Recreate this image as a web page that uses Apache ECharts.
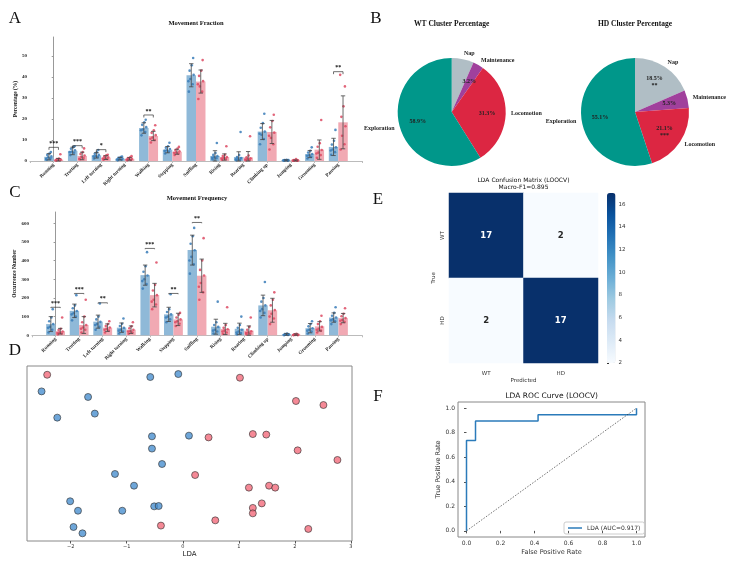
<!DOCTYPE html>
<html lang="en">
<head>
<meta charset="UTF-8">
<title>Movement analysis</title>
<script src="https://cdn.jsdelivr.net/npm/echarts@6/dist/echarts.min.js"></script>
<style>html,body{margin:0;padding:0;background:#fff}</style>
</head>
<body>
<div id="main" style="width:740px;height:573px;"></div>
<script>
// ---- data ----
var behaviours = ['Running', 'Trotting', 'Left turning', 'Right turning', 'Walking', 'Stepping', 'Sniffing',
  'Rising', 'Rearing', 'Climbing up', 'Jumping', 'Grooming', 'Pausing'];

// Movement fraction (%)
var fracWT = [2.0, 4.8, 2.7, 1.1, 15.7, 5.4, 40.8, 2.4, 1.9, 14.0, 0.3, 3.3, 6.7];
var fracWTsd = [1.5, 1.8, 1.3, 0.6, 2.5, 1.5, 5.5, 2.5, 2.5, 3.8, 0.3, 1.7, 4.1];
var fracHD = [0.6, 2.4, 1.6, 1.0, 11.9, 4.4, 37.8, 1.9, 1.7, 13.8, 0.2, 5.4, 18.4];
var fracHDsd = [0.6, 1.8, 0.9, 0.6, 2.2, 1.2, 5.5, 1.5, 2.8, 5.5, 0.3, 4.6, 12.6];
var fracWTpts = [
  [0.6, 1.2, 1.8, 2.2, 2.9, 3.6, 4.3, 1.0], [2.8, 3.9, 4.5, 5.1, 5.8, 6.6, 7.0, 4.2],
  [1.2, 1.9, 2.4, 2.9, 3.4, 4.1, 5.2, 2.2], [0.3, 0.6, 0.9, 1.2, 1.5, 1.9, 2.1, 0.8],
  [12.2, 13.8, 15.0, 16.1, 17.2, 18.4, 19.6, 14.6], [3.6, 4.5, 5.1, 5.7, 6.3, 7.0, 8.7, 4.8],
  [33.0, 36.5, 39.0, 41.0, 43.0, 45.5, 49.0, 38.0], [0.8, 1.3, 1.8, 2.3, 2.9, 3.8, 8.6, 1.5],
  [0.3, 0.6, 1.0, 1.4, 1.9, 2.8, 13.8, 0.8], [8.0, 10.5, 12.5, 14.0, 15.8, 18.0, 22.5, 13.0],
  [0.1, 0.2, 0.3, 0.4, 0.5, 0.6, 0.2, 0.3], [1.2, 2.0, 2.7, 3.3, 4.0, 4.8, 6.5, 2.5],
  [3.0, 4.2, 5.5, 6.5, 7.8, 9.6, 14.8, 5.0]];
var fracHDpts = [
  [0.2, 0.4, 0.5, 0.7, 0.9, 1.2, 3.2, 0.3], [0.8, 1.4, 2.0, 2.6, 3.3, 4.2, 6.0, 1.1],
  [0.6, 1.0, 1.4, 1.8, 2.2, 2.7, 3.0, 1.2], [0.3, 0.5, 0.8, 1.1, 1.4, 1.8, 2.3, 0.7],
  [8.8, 10.0, 11.2, 12.3, 13.4, 14.6, 17.0, 10.6], [2.9, 3.6, 4.1, 4.6, 5.2, 5.9, 6.7, 3.9],
  [29.5, 33.0, 35.5, 38.0, 40.5, 43.0, 48.0, 36.5], [0.6, 1.0, 1.5, 1.9, 2.4, 3.0, 7.0, 1.2],
  [0.3, 0.6, 0.9, 1.3, 1.8, 2.6, 11.8, 0.7], [5.5, 8.0, 11.0, 13.5, 16.0, 19.0, 22.0, 12.0],
  [0.1, 0.2, 0.2, 0.3, 0.5, 0.9, 0.1, 0.2], [1.5, 2.8, 4.0, 5.2, 6.8, 8.5, 19.5, 3.6],
  [5.5, 8.0, 12.0, 16.5, 21.0, 26.0, 35.5, 41.0]];
var fracSig = [[0, 6.5, '***'], [1, 7.3, '***'], [2, 5.4, '*'], [4, 21.9, '**'], [12, 42.5, '**']];

// Movement frequency (count)
var freqWT = [60, 131, 73, 41, 322, 112, 456, 46, 35, 160, 5, 38, 95];
var freqWTsd = [40, 36, 35, 25, 54, 38, 80, 40, 30, 55, 5, 25, 25];
var freqHD = [22, 55, 41, 30, 215, 85, 319, 34, 25, 134, 3, 48, 92];
var freqHDsd = [15, 45, 20, 20, 63, 33, 89, 30, 25, 64, 5, 25, 25];
var freqWTpts = [
  [15, 30, 45, 60, 75, 95, 140, 40], [80, 100, 118, 130, 145, 160, 215, 112],
  [30, 45, 60, 72, 85, 100, 170, 55], [10, 20, 30, 40, 50, 62, 90, 25],
  [250, 275, 300, 320, 340, 370, 445, 290], [70, 85, 100, 112, 125, 140, 220, 95],
  [330, 380, 420, 455, 490, 530, 575, 400], [10, 20, 30, 45, 55, 70, 180, 25],
  [5, 12, 20, 30, 40, 55, 100, 15], [95, 120, 140, 160, 180, 200, 285, 130],
  [1, 2, 3, 5, 7, 10, 3, 2], [10, 20, 30, 38, 48, 60, 75, 25],
  [60, 75, 85, 95, 105, 120, 150, 80]];
var freqHDpts = [
  [5, 10, 15, 20, 28, 35, 95, 12], [15, 30, 42, 55, 70, 100, 190, 35],
  [15, 25, 35, 42, 50, 60, 75, 30], [8, 15, 22, 30, 38, 48, 70, 20],
  [140, 165, 190, 215, 240, 270, 390, 180], [50, 62, 75, 85, 95, 110, 120, 70],
  [190, 230, 280, 320, 350, 400, 520, 260], [8, 15, 25, 32, 40, 55, 150, 20],
  [5, 10, 15, 22, 30, 45, 95, 12], [60, 90, 115, 135, 160, 190, 230, 100],
  [1, 2, 2, 3, 5, 8, 1, 2], [15, 25, 35, 45, 60, 75, 105, 30],
  [60, 72, 82, 92, 102, 115, 145, 78]];
var freqSig = [[0, 150, '***'], [1, 224, '***'], [2, 174, '**'], [4, 465, '***'], [5, 224, '**'], [6, 604, '**']];

// Cluster percentages
var clusters = ['Nap', 'Maintenance', 'Locomotion', 'Exploration'];
var wtPct = [6.6, 3.2, 31.3, 58.9];
var hdPct = [18.5, 5.3, 21.1, 55.1];
var hdStars = ['**', '', '***', ''];

// LDA projection (x = LDA score, y = jitter)
var ldaWT = [[-2.52, 0.855], [-2.24, 0.705], [-1.69, 0.823], [-1.57, 0.728], [-0.58, 0.937], [-0.08, 0.954],
  [-0.55, 0.598], [0.11, 0.602], [-0.55, 0.528], [-0.37, 0.44], [-1.21, 0.383], [-0.87, 0.316],
  [-2.01, 0.227], [-1.87, 0.173], [-1.08, 0.173], [-0.51, 0.198], [-0.43, 0.2], [-1.95, 0.08], [-1.79, 0.044]];
var ldaHD = [[-2.42, 0.95], [1.02, 0.933], [2.02, 0.8], [2.51, 0.777], [0.46, 0.592], [1.25, 0.611],
  [1.49, 0.608], [2.05, 0.518], [2.76, 0.463], [0.22, 0.377], [1.18, 0.305], [1.54, 0.316],
  [1.65, 0.305], [1.41, 0.215], [1.25, 0.189], [1.25, 0.158], [0.58, 0.118], [-0.39, 0.088], [2.24, 0.069]];

// confusion matrix, rows = true, cols = predicted
var cmLabels = ['WT', 'HD'];
var cm = [[17, 2], [2, 17]];

// ROC
var rocFpr = [0, 0, 0.053, 0.053, 0.421, 0.421, 1, 1];
var rocTpr = [0, 0.737, 0.737, 0.895, 0.895, 0.947, 0.947, 1];

// ---- styling ----
var serif = '"Liberation Serif", "Times New Roman", serif';
var sans = '"DejaVu Sans", sans-serif';
var wtBar = '#8fb9d8', hdBar = '#f1a9b3', wtDot = '#3a7db8', hdDot = '#dd4a63';
var pieColors = ['#b0bec5', '#a0409c', '#dc2642', '#00978a'];
var blues = ['#f7fbff', '#deebf7', '#c6dbef', '#9ecae1', '#6baed6', '#4292c6', '#2171b5', '#08519c', '#08306b'];
var jit = [-0.1, 0.06, -0.04, 0.1, -0.07, 0.02, 0.08, -0.12];

function dotData(pts, shift) {
  var out = [];
  pts.forEach(function (vals, i) {
    vals.forEach(function (v, k) { out.push([i + shift + jit[k], v]); });
  });
  return out;
}

function barPanel(gi, wt, wtSd, hd, hdSd, wtPts, hdPts, sig, tickLen) {
  function bars(means, off, color) {
    return {
      type: 'custom', xAxisIndex: gi, yAxisIndex: gi, silent: true,
      data: means.map(function (m, i) { return [i, m]; }),
      encode: { x: 0, y: 1 },
      renderItem: function (params, api) {
        var i = api.value(0), m = api.value(1);
        var a = api.coord([i + off, m]), b = api.coord([i + off + 0.4, 0]);
        return { type: 'rect', shape: { x: a[0], y: a[1], width: b[0] - a[0], height: b[1] - a[1] }, style: { fill: color } };
      }
    };
  }
  function errs(means, sds, off) {
    return {
      type: 'custom', xAxisIndex: gi, yAxisIndex: gi, silent: true, z: 5,
      data: means.map(function (m, i) { return [i, m, sds[i]]; }),
      encode: { x: 0, y: 1 },
      renderItem: function (params, api) {
        var i = api.value(0) + off, m = api.value(1), s = api.value(2);
        var top = api.coord([i, m + s]), bot = api.coord([i, Math.max(0, m - s)]);
        var st = { stroke: '#444', lineWidth: 0.8 };
        return { type: 'group', children: [
          { type: 'line', shape: { x1: top[0], y1: top[1], x2: bot[0], y2: bot[1] }, style: st },
          { type: 'line', shape: { x1: top[0] - 2.2, y1: top[1], x2: top[0] + 2.2, y2: top[1] }, style: st },
          { type: 'line', shape: { x1: bot[0] - 2.2, y1: bot[1], x2: bot[0] + 2.2, y2: bot[1] }, style: st }
        ] };
      }
    };
  }
  function dots(pts, shift, color) {
    return {
      type: 'scatter', xAxisIndex: gi, yAxisIndex: gi, silent: true, z: 4,
      symbolSize: 2.6, itemStyle: { color: color, opacity: 0.85 },
      data: dotData(pts, shift)
    };
  }
  var brackets = {
    type: 'custom', xAxisIndex: gi, yAxisIndex: gi, silent: true, z: 6,
    data: sig.map(function (s) { return [s[0], s[1]]; }),
    encode: { x: 0, y: 1 },
    renderItem: function (params, api) {
      var i = api.value(0), y = api.value(1);
      var l = api.coord([i - 0.2, y]), r = api.coord([i + 0.2, y]);
      return { type: 'group', children: [
        { type: 'polyline', shape: { points: [[l[0], l[1] + tickLen], [l[0], l[1]], [r[0], r[1]], [r[0], r[1] + tickLen]] },
          style: { stroke: '#333', lineWidth: 0.7, fill: null } },
        { type: 'text', style: { x: (l[0] + r[0]) / 2, y: l[1] - 1, text: sig[params.dataIndex][2], align: 'center',
          verticalAlign: 'bottom', fontSize: 6, fontWeight: 'bold', fontFamily: serif, fill: '#111' } }
      ] };
    }
  };
  return [bars(wt, -0.4, wtBar), bars(hd, 0, hdBar), dots(wtPts, -0.2, wtDot), dots(hdPts, 0.2, hdDot),
    errs(wt, wtSd, -0.2), errs(hd, hdSd, 0.2), brackets];
}

function behaviourX(gi) {
  return {
    gridIndex: gi, type: 'value', min: -1, max: 13, interval: 1, splitLine: { show: false },
    axisLine: { lineStyle: { color: '#bbb', width: 1.2 } },
    axisTick: { length: 2, lineStyle: { color: '#bbb' } },
    axisLabel: { rotate: 45, fontSize: 5, fontWeight: 'bold', fontFamily: serif, color: '#222', margin: 3,
      formatter: function (v) { return behaviours[v] || ''; } }
  };
}
function countY(gi, max, step, name) {
  return {
    gridIndex: gi, type: 'value', min: 0, max: max, interval: step, splitLine: { show: false },
    name: name, nameLocation: 'middle', nameGap: 8,
    nameTextStyle: { fontSize: 5.5, fontWeight: 'bold', fontFamily: serif, color: '#111' },
    axisLine: { show: true, lineStyle: { color: '#999' } },
    axisTick: { show: true, length: 2, lineStyle: { color: '#999' } },
    axisLabel: { fontSize: 5, fontWeight: 'bold', fontFamily: serif, color: '#222', margin: 3, showMaxLabel: false }
  };
}
function plainText(x, y, text, size, family, weight) {
  return { type: 'text', x: x, y: y, silent: true,
    style: { text: text, align: 'center', verticalAlign: 'middle', fontSize: size, fontFamily: family,
      fontWeight: weight || 'normal', fill: '#111', lineHeight: size * 1.15 } };
}

var tickFont = { fontSize: 5.5, fontFamily: sans, color: '#333' };

var series = [];
series = series.concat(barPanel(0, fracWT, fracWTsd, fracHD, fracHDsd, fracWTpts, fracHDpts, fracSig, 2.5));
series = series.concat(barPanel(1, freqWT, freqWTsd, freqHD, freqHDsd, freqWTpts, freqHDpts, freqSig, 0.8));

// pies
function pie(center, pct, stars) {
  var items = clusters.map(function (n, i) { return { name: n, value: pct[i], itemStyle: { color: pieColors[i] } }; });
  return [{
    type: 'pie', center: center, radius: 54, startAngle: 90, clockwise: true, silent: true, avoidLabelOverlap: false,
    label: { show: true, position: 'outside', fontSize: 6, fontWeight: 'bold', fontFamily: serif, color: '#222', distanceToLabelLine: 0 },
    labelLine: { show: false, length: 5.4, length2: 0 },
    data: items
  }, {
    type: 'pie', center: center, radius: 64.8, startAngle: 90, clockwise: true, silent: true, avoidLabelOverlap: false,
    itemStyle: { color: 'rgba(0,0,0,0)' },
    label: { show: true, position: 'inside', fontSize: 6, fontWeight: 'bold', fontFamily: serif, color: '#222', lineHeight: 7,
      formatter: function (p) { var s = stars[p.dataIndex]; return p.value.toFixed(1) + '%' + (s ? '\n' + s : ''); } },
    data: clusters.map(function (n, i) { return { name: n, value: pct[i] }; })
  }];
}
series = series.concat(pie([451.7, 112], wtPct, ['', '', '', '']));
series = series.concat(pie([635, 112], hdPct, hdStars));

// LDA scatter
series.push({ type: 'scatter', name: 'WT', xAxisIndex: 2, yAxisIndex: 2, symbolSize: 7, data: ldaWT,
  itemStyle: { color: '#4a90cf', borderColor: '#333', borderWidth: 0.8 } });
series.push({ type: 'scatter', name: 'HD', xAxisIndex: 2, yAxisIndex: 2, symbolSize: 7, data: ldaHD,
  itemStyle: { color: '#f26b7c', borderColor: '#333', borderWidth: 0.8 } });

// confusion matrix
var heatData = [];
cm.forEach(function (row, r) {
  row.forEach(function (v, c) {
    heatData.push({ value: [c, cmLabels.length - 1 - r, v], label: { color: v > 9 ? '#fff' : '#262626' } });
  });
});
var heatIndex = series.length;
series.push({ type: 'heatmap', xAxisIndex: 3, yAxisIndex: 3, data: heatData, silent: true,
  label: { show: true, fontSize: 8.5, fontWeight: 'bold', fontFamily: sans } });

// ROC
series.push({ type: 'line', name: 'LDA (AUC=0.917)', xAxisIndex: 5, yAxisIndex: 5, symbol: 'none',
  data: rocFpr.map(function (f, i) { return [f, rocTpr[i]]; }),
  lineStyle: { color: '#2b7bba', width: 1.5 }, itemStyle: { color: '#2b7bba' } });
series.push({ type: 'line', name: 'chance', xAxisIndex: 5, yAxisIndex: 5, symbol: 'none', silent: true,
  data: [[0, 0], [1, 1]], lineStyle: { color: '#333', width: 0.7, type: [1.5, 1.5] } });

var option = {
  backgroundColor: '#fff',
  animation: false,
  grid: [
    { left: 30, top: 37, width: 332, height: 124 },
    { left: 32, top: 212, width: 330, height: 123.3 },
    { left: 27, top: 366, width: 325, height: 175, show: true, borderColor: '#888', borderWidth: 1 },
    { left: 449, top: 193, width: 149, height: 170 },
    { left: 607, top: 193, width: 8.5, height: 170 },
    { left: 458, top: 402, width: 187, height: 135, show: true, borderColor: '#888', borderWidth: 1 }
  ],
  xAxis: [
    behaviourX(0),
    behaviourX(1),
    { gridIndex: 2, type: 'value', min: -2.78, max: 3.02, splitNumber: 5, splitLine: { show: false },
      name: 'LDA', nameLocation: 'middle', nameGap: 10, nameTextStyle: { fontSize: 7, fontFamily: sans, color: '#222' },
      axisLine: { show: false }, axisTick: { length: 2.5, lineStyle: { color: '#555' } },
      axisLabel: { fontSize: 5, fontFamily: sans, color: '#333', margin: 3, showMinLabel: false, showMaxLabel: false,
        formatter: function (v) { return String(v).replace('-', '\u2212'); } } },
    { gridIndex: 3, type: 'category', data: cmLabels, name: 'Predicted', nameLocation: 'middle', nameGap: 11,
      nameTextStyle: { fontSize: 5.5, fontFamily: sans, color: '#333' },
      axisLine: { show: false }, axisTick: { length: 2, alignWithLabel: true, lineStyle: { color: '#333' } },
      axisLabel: tickFont, splitArea: { show: false } },
    { gridIndex: 4, type: 'value', show: false },
    { gridIndex: 5, type: 'value', min: -0.05, max: 1.05, splitNumber: 5, splitLine: { show: false },
      name: 'False Positive Rate', nameLocation: 'middle', nameGap: 12,
      nameTextStyle: { fontSize: 6.5, fontFamily: sans, color: '#333' },
      axisLine: { show: false }, axisTick: { length: 2.5, lineStyle: { color: '#555' } },
      axisLabel: { fontSize: 6, fontFamily: sans, color: '#333', margin: 3, showMinLabel: false, showMaxLabel: false,
        formatter: function (v) { return v.toFixed(1); } } }
  ],
  yAxis: [
    countY(0, 59, 10, 'Percentage (%)'),
    countY(1, 660, 100, 'Occurrence Number'),
    { gridIndex: 2, type: 'value', min: 0, max: 1, show: false },
    { gridIndex: 3, type: 'category', data: cmLabels.slice().reverse(), name: 'True', nameLocation: 'middle', nameGap: 12,
      nameTextStyle: { fontSize: 5.5, fontFamily: sans, color: '#333' },
      axisLine: { show: false }, axisTick: { length: 2, alignWithLabel: true, lineStyle: { color: '#333' } },
      axisLabel: { fontSize: 5.5, fontFamily: sans, color: '#333', rotate: 90, margin: 3 } },
    { gridIndex: 4, type: 'value', position: 'right', min: 2, max: 17, interval: 2, splitLine: { show: false },
      axisLine: { show: false }, axisTick: { show: true, length: 2, lineStyle: { color: '#333' } },
      axisLabel: { fontSize: 5.5, fontFamily: sans, color: '#333', margin: 3, showMaxLabel: false } },
    { gridIndex: 5, type: 'value', min: -0.05, max: 1.05, splitNumber: 5, splitLine: { show: false },
      name: 'True Positive Rate', nameLocation: 'middle', nameGap: 15,
      nameTextStyle: { fontSize: 6.5, fontFamily: sans, color: '#333' },
      axisLine: { show: false }, axisTick: { length: 2.5, lineStyle: { color: '#555' } },
      axisLabel: { fontSize: 6, fontFamily: sans, color: '#333', margin: 3, showMinLabel: false, showMaxLabel: false,
        formatter: function (v) { return v.toFixed(1); } } }
  ],
  visualMap: {
    type: 'continuous', seriesIndex: heatIndex, min: 2, max: 17, calculable: false, show: true,
    left: 607, top: 193, itemWidth: 8.5, itemHeight: 170, padding: 0, text: null,
    inRange: { color: blues }
  },
  legend: {
    data: [{ name: 'LDA (AUC=0.917)', icon: 'rect' }], left: 564, top: 522, itemWidth: 14, itemHeight: 1.5,
    padding: [3, 4], borderColor: '#ccc', borderWidth: 1, borderRadius: 2, selectedMode: false,
    textStyle: { fontSize: 6, fontFamily: sans, color: '#333' }
  },
  graphic: [
    plainText(15, 19, 'A', 17, serif), plainText(376, 19, 'B', 17, serif), plainText(15, 193, 'C', 17, serif),
    plainText(15, 351, 'D', 17, serif), plainText(378, 200, 'E', 17, serif), plainText(378, 397, 'F', 17, serif),
    plainText(196, 23, 'Movement Fraction', 6.5, serif, 'bold'),
    plainText(197, 198, 'Movement Frequency', 6.5, serif, 'bold'),
    plainText(451.7, 24, 'WT Cluster Percentage', 7.5, serif, 'bold'),
    plainText(635, 24, 'HD Cluster Percentage', 7.5, serif, 'bold'),
    plainText(523.5, 184, 'LDA Confusion Matrix (LOOCV)\nMacro-F1=0.895', 6, sans),
    plainText(551.7, 396, 'LDA ROC Curve (LOOCV)', 7.5, sans)
  ],
  series: series
};

var chart = echarts.init(document.getElementById('main'), null, { renderer: 'canvas' });
chart.setOption(option);
</script>
</body>
</html>
